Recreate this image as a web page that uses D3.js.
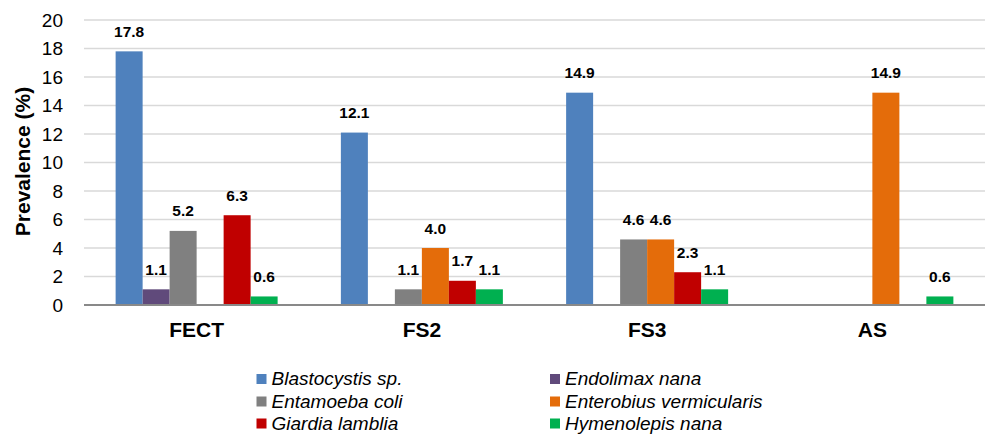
<!DOCTYPE html>
<html>
<head>
<meta charset="utf-8">
<script src="https://cdn.jsdelivr.net/npm/d3@7"></script>
<style>
  html, body { margin: 0; padding: 0; background: #fff; }
  svg { display: block; font-family: "Liberation Sans", Arial, sans-serif; }
</style>
</head>
<body>
<svg id="chart" width="987" height="436"></svg>
<script>
// Study sites and parasite species
const categories = ["FECT", "FS2", "FS3", "AS"];
const seriesNames = [
  "Blastocystis sp.",
  "Endolimax nana",
  "Entamoeba coli",
  "Enterobius vermicularis",
  "Giardia lamblia",
  "Hymenolepis nana"
];
const seriesColors = ["#4f81bd", "#604a7b", "#808080", "#e46c0a", "#c00000", "#00b050"];

// Prevalence (%) per species, one value per site
const blastocystis = [17.8, 12.1, 14.9, 0];
const endolimax    = [1.1, 0, 0, 0];
const entamoeba    = [5.2, 1.1, 4.6, 0];
const enterobius   = [0, 4.0, 4.6, 14.9];
const giardia      = [6.3, 1.7, 2.3, 0];
const hymenolepis  = [0.6, 1.1, 1.1, 0.6];
const seriesValues = [blastocystis, endolimax, entamoeba, enterobius, giardia, hymenolepis];

const yTicks = [0, 2, 4, 6, 8, 10, 12, 14, 16, 18, 20];

const svg = d3.select("#chart");
const plot = { left: 84, right: 985, top: 20, bottom: 305 };

const x0 = d3.scaleBand().domain(categories).range([plot.left, plot.right]).padding(0);
const barW = 27;
const groupW = barW * seriesNames.length;
const x1 = d3.scaleBand()
  .domain(seriesNames)
  .range([(x0.bandwidth() - groupW) / 2, (x0.bandwidth() + groupW) / 2])
  .padding(0);
const y = d3.scaleLinear().domain([0, 20]).range([plot.bottom, plot.top]);

// Horizontal gridlines
svg.append("g")
  .selectAll("line")
  .data(yTicks.filter(d => d > 0))
  .join("line")
  .attr("x1", plot.left).attr("x2", plot.right)
  .attr("y1", d => y(d)).attr("y2", d => y(d))
  .attr("stroke", "#d9d9d9").attr("stroke-width", 1.5);

// Y axis tick labels
const yAxis = d3.axisLeft(y).tickValues(yTicks).tickSize(0).tickPadding(0);
const yg = svg.append("g").attr("transform", `translate(${plot.left - 21},0)`).call(yAxis);
yg.select(".domain").remove();
yg.selectAll("text")
  .attr("font-size", 19).attr("fill", "#000")
  .attr("font-family", "Liberation Sans, Arial, sans-serif");

// Y axis title
svg.append("text")
  .attr("transform", `translate(30,${(83 + 240) / 2}) rotate(-90)`)
  .attr("text-anchor", "middle")
  .attr("font-size", 21).attr("font-weight", "bold").attr("fill", "#000")
  .text("Prevalence (%)");

// Bars
const rows = [];
categories.forEach((c, ci) => {
  seriesNames.forEach((s, si) => {
    rows.push({ cat: c, series: s, value: seriesValues[si][ci], color: seriesColors[si] });
  });
});

const groups = svg.append("g");
groups.selectAll("rect")
  .data(rows.filter(d => d.value > 0))
  .join("rect")
  .attr("x", d => x0(d.cat) + x1(d.series))
  .attr("y", d => y(d.value))
  .attr("width", x1.bandwidth())
  .attr("height", d => y(0) - y(d.value))
  .attr("fill", d => d.color);

// Value labels
svg.append("g")
  .selectAll("text")
  .data(rows.filter(d => d.value > 0))
  .join("text")
  .attr("x", d => x0(d.cat) + x1(d.series) + x1.bandwidth() / 2)
  .attr("y", d => y(d.value) - 14.5)
  .attr("text-anchor", "middle")
  .attr("font-size", 15.5).attr("font-weight", "bold").attr("fill", "#000")
  .text(d => d.value.toFixed(1));

// Baseline
svg.append("line")
  .attr("x1", plot.left).attr("x2", plot.right)
  .attr("y1", y(0)).attr("y2", y(0))
  .attr("stroke", "#898989").attr("stroke-width", 2);

// Category labels
const xAxis = d3.axisBottom(x0).tickSize(0).tickPadding(0);
const xg = svg.append("g").attr("transform", `translate(0,${plot.bottom})`).call(xAxis);
xg.select(".domain").remove();
xg.selectAll("text")
  .attr("dy", null).attr("y", 32)
  .attr("font-size", 21).attr("font-weight", "bold").attr("fill", "#000")
  .attr("font-family", "Liberation Sans, Arial, sans-serif");

// Legend in two columns
const legendCols = [256.5, 550];
const legendRows = [385, 407.5, 429.5];
const legend = svg.append("g")
  .selectAll("g")
  .data(seriesNames)
  .join("g")
  .attr("transform", (d, i) => `translate(${legendCols[i % 2]},${legendRows[Math.floor(i / 2)]})`);
legend.append("rect")
  .attr("x", 0).attr("y", -11).attr("width", 10).attr("height", 10)
  .attr("fill", (d, i) => seriesColors[i]);
legend.append("text")
  .attr("x", 15).attr("y", 0)
  .attr("font-size", 19).attr("font-style", "italic").attr("fill", "#000")
  .text(d => d);
</script>
</body>
</html>
